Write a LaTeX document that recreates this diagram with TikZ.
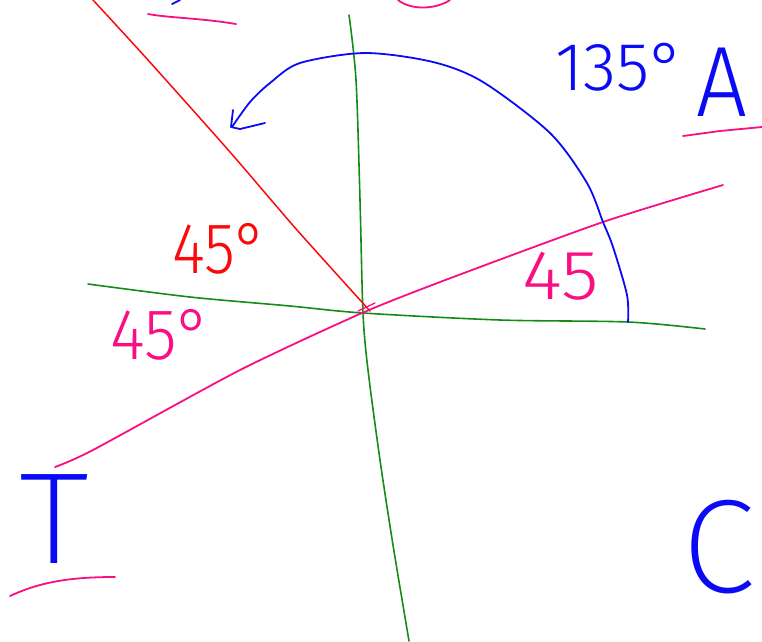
\documentclass[tikz,border=0pt]{standalone}
\usepackage{fontspec}
\usepackage{xcolor}
\usepackage{tikz}
\newfontfamily\handfont{Fira Sans Light}
\newfontfamily\thinfont{Fira Sans ExtraLight}
\definecolor{penblue}{RGB}{10,10,245}
\definecolor{penred}{RGB}{250,10,10}
\definecolor{pengreen}{RGB}{20,140,20}
\definecolor{penpink}{RGB}{250,15,130}
\newcommand{\handtext}[3]{\fontsize{#1}{#1}\selectfont\scalebox{#2}[1]{#3}}

\begin{document}
\begin{tikzpicture}[x=1pt, y=-1pt, line cap=round, line join=round,
		pen/.style={line width=1.8pt},
		hand/.style={inner sep=0pt, font=\handfont},
		bighand/.style={inner sep=0pt, font=\thinfont}]
			\clip (0,0) rectangle (762,641);
			
			% Axes
			\draw[pen, pengreen, line width=1.6pt] plot[smooth, tension=0.5] coordinates {(88,284) (190,297) (290,306) (363,313) (500,320) (628,322) (705,329)};
			\draw[pen, pengreen, line width=1.6pt] plot[smooth, tension=0.5] coordinates {(349,15) (356,80) (360,200) (363,313) (368,370) (380,460) (393,545) (409,641)};
			
			% Lines through the origin
			\draw[pen, penred, line width=1.5pt] plot[smooth, tension=0.4] coordinates {(93,0) (148,60) (230,152) (297,230) (370,311)};
			\draw[pen, penpink] plot[smooth, tension=0.4] coordinates {(55,467) (93,450) (240,370) (362,313) (448,279) (603,222) (723,185)};
			\draw[pen, penpink, line width=1.3pt] (358,311) -- (375,303);
			
			% Turn of 135 degrees
			\draw[pen, penblue] plot[smooth, tension=0.5] coordinates {(628,322) (627,295) (613,247) (603,222) (587,183) (550,133) (483,82) (433,62) (365,53) (300,63) (270,83) (250,102) (232,127)};
			\draw[pen, penblue] (233,110) -- (231,127) -- (240,129) -- (265,123);
			
			% Labels
			\node[hand, penblue] (turn) at (620,67) {\handtext{68pt}{1.0}{135°}};
			\node[hand, penblue] (pointA) at (722,82) {\handtext{100pt}{0.9}{A}};
			\node[hand, penred] (angleUp) at (220,249) {\handtext{72pt}{0.88}{45°}};
			\node[hand, penpink] (angleLeft) at (161,335) {\handtext{72pt}{0.93}{45°}};
			\node[hand, penpink] (angleRight) at (561,276) {\handtext{70pt}{1.1}{45}};
			\node[bighand, penblue] (pointT) at (54,519) {\handtext{130pt}{1.1}{T}};
			\node[bighand, penblue] (pointC) at (719,547) {\handtext{133pt}{1.0}{C}};
			
			% Underlines and marks cut at the top
			\draw[pen, penpink] (683,136) -- (720,131) -- (762,127);
			\draw[pen, penpink] (10,596) .. controls (40,582) and (70,577) .. (115,577);
			\draw[pen, penpink] (148,14) .. controls (170,18) and (200,18) .. (236,24);
			\draw[pen, penpink] (398,0) .. controls (410,10) and (435,10) .. (450,0);
			\draw[pen, penblue] (172,4) -- (180,0);
		\end{tikzpicture}
\end{document}
